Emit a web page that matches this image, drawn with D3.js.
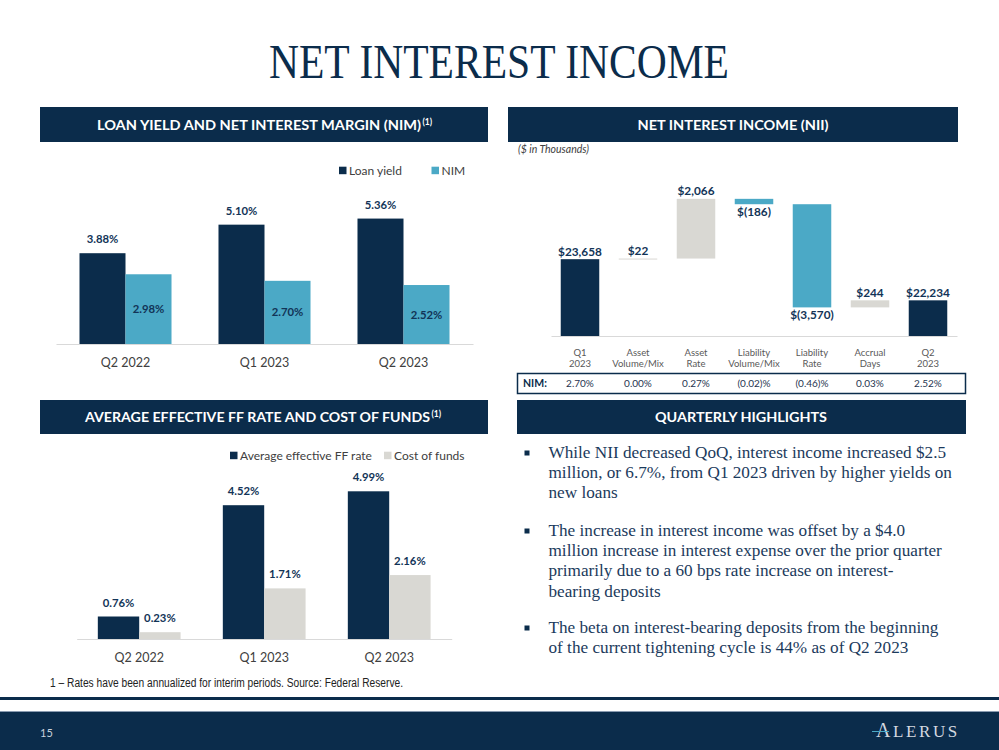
<!DOCTYPE html>
<html><head><meta charset="utf-8">
<script src="https://cdn.jsdelivr.net/npm/d3@7"></script>
<style>body{margin:0;background:#fff;} svg{display:block;}</style>
</head><body><svg id="c" width="999" height="750"></svg>
<script>
// ---------- DATA ----------
const quarters = ["Q2 2022", "Q1 2023", "Q2 2023"];
const loanYield = [3.88, 5.10, 5.36];
const nimValues = [2.98, 2.70, 2.52];
const ffRate = [0.76, 4.52, 4.99];
const costOfFunds = [0.23, 1.71, 2.16];

const niiSteps = ["Q1\n2023", "Asset\nVolume/Mix", "Asset\nRate", "Liability\nVolume/Mix", "Liability\nRate", "Accrual\nDays", "Q2\n2023"];
const niiValues = [23658, 22, 2066, -186, -3570, 244, 22234];
const niiTypes = ["total", "delta", "delta", "delta", "delta", "delta", "total"];
const niiLabels = ["$23,658", "$22", "$2,066", "$(186)", "$(3,570)", "$244", "$22,234"];
const nimRow = ["2.70%", "0.00%", "0.27%", "(0.02)%", "(0.46)%", "0.03%", "2.52%"];

const highlights = [
  ["While NII decreased QoQ, interest income increased $2.5", "million, or 6.7%, from Q1 2023 driven by higher yields on", "new loans"],
  ["The increase in interest income was offset by a $4.0", "million increase in interest expense over the prior quarter", "primarily due to a 60 bps rate increase on interest-", "bearing deposits"],
  ["The beta on interest-bearing deposits from the beginning", "of the current tightening cycle is 44% as of Q2 2023"]
];

// ---------- STYLE ----------
const NAVY = "#0b2c4b", BLUE = "#4ba9c6", GRAY = "#d9d8d3", AXIS = "#d9d9d9";
const SANS = "Lato, 'Open Sans', sans-serif";
const SERIF = "'Liberation Serif', 'DejaVu Serif', serif";

const svg = d3.select("#c");

// Title
svg.append("text").attr("x", 269).attr("y", 78)
  .attr("textLength", 460).attr("lengthAdjust", "spacingAndGlyphs")
  .style("font-family", SERIF).style("font-size", "48px").attr("fill", NAVY)
  .text("NET INTEREST INCOME");

// Header bands
function header(x0, x1, y0, y1, label, tx, tw, base, sup, supX) {
  svg.append("rect").attr("x", x0).attr("y", y0).attr("width", x1 - x0).attr("height", y1 - y0).attr("fill", NAVY);
  svg.append("text").attr("x", tx).attr("y", base).attr("textLength", tw).attr("lengthAdjust", "spacingAndGlyphs")
    .style("font-family", SANS).style("font-weight", 700).style("font-size", "14px").attr("fill", "#fff").text(label);
  if (sup) svg.append("text").attr("x", supX).attr("y", base - 5)
    .style("font-family", SANS).style("font-weight", 700).style("font-size", "8.5px").attr("fill", "#fff").text(sup);
}
header(40, 488, 107, 142, "LOAN YIELD AND NET INTEREST MARGIN (NIM)", 97, 324, 129.5, "(1)", 422.5);
header(508, 958, 107, 142, "NET INTEREST INCOME (NII)", 637.5, 191, 129.5);
header(40, 488, 400, 434, "AVERAGE EFFECTIVE FF RATE AND COST OF FUNDS", 85, 345, 422, "(1)", 431.5);
header(517, 966, 400, 434, "QUARTERLY HIGHLIGHTS", 655, 172, 422);

// ---------- grouped bar helper ----------
function groupedChart(cfg) {
  const g = svg.append("g");
  const x0 = d3.scaleBand().domain(quarters).range(cfg.xr).paddingInner(0.338).paddingOuter(0.169);
  const x1 = d3.scaleBand().domain([0, 1]).range([0, x0.bandwidth()]);
  const y = d3.scaleLinear().domain([0, 6]).range([cfg.base, cfg.base - 6 * cfg.pxPer]);
  const series = [cfg.a, cfg.b];
  series.forEach((vals, si) => {
    g.selectAll(null).data(vals).enter().append("rect")
      .attr("x", (d, i) => x0(quarters[i]) + x1(si))
      .attr("y", d => y(d)).attr("width", x1.bandwidth()).attr("height", d => y(0) - y(d))
      .attr("fill", cfg.colors[si]);
    g.selectAll(null).data(vals).enter().append("text")
      .attr("x", (d, i) => x0(quarters[i]) + x1(si) + x1.bandwidth() / 2)
      .attr("y", d => (cfg.inside[si] ? (y(d) + y(0)) / 2 + 4 : y(d) - 10))
      .attr("text-anchor", "middle").style("font-family", SANS).style("font-weight", 700)
      .style("font-size", "11.3px").attr("fill", "#123457")
      .text(d => d.toFixed(2) + "%");
  });
  const ax = g.append("g").attr("transform", `translate(0,${cfg.base})`)
    .call(d3.axisBottom(x0).tickSize(0).tickSizeOuter(0).tickPadding(13.8));
  ax.select(".domain").attr("stroke", AXIS);
  ax.selectAll(".tick text").style("font-family", SANS).style("font-size", "12.5px").attr("fill", "#404040");
  // legend
  cfg.legend.forEach((l, i) => {
    svg.append("rect").attr("x", l.x).attr("y", cfg.ly - 3.8).attr("width", 7.5).attr("height", 7.5).attr("fill", cfg.colors[i]);
    svg.append("text").attr("x", l.x + 10).attr("y", cfg.ly + 4).style("font-family", SANS).style("font-size", "12px")
      .attr("fill", "#404040").text(l.t);
  });
}

groupedChart({ xr: [56, 473], base: 344, pxPer: 23.4, a: loanYield, b: nimValues, colors: [NAVY, BLUE],
  inside: [false, true], ly: 170.5, legend: [{ x: 339, t: "Loan yield" }, { x: 431.5, t: "NIM" }] });

groupedChart({ xr: [76.7, 451.7], base: 639, pxPer: 29.6, a: ffRate, b: costOfFunds, colors: [NAVY, GRAY],
  inside: [false, false], ly: 455.5, legend: [{ x: 230, t: "Average effective FF rate" }, { x: 384, t: "Cost of funds" }] });

// Footnote
svg.append("text").attr("x", 50).attr("y", 686.5).attr("textLength", 353).attr("lengthAdjust", "spacingAndGlyphs")
  .style("font-family", "'Liberation Sans Narrow', 'Liberation Sans', Arial, sans-serif").style("font-size", "12.5px")
  .attr("fill", "#222").text("1 – Rates have been annualized for interim periods. Source: Federal Reserve.");

// ---------- Waterfall ----------
const wg = svg.append("g");
const wx = d3.scaleBand().domain(niiSteps).range([551, 957]).paddingInner(0.336).paddingOuter(0.168);
const wy = d3.scaleLinear().domain([21000, 27000]).range([336, 336 - 173.4]);
let run = 0;
const wData = niiValues.map((v, i) => {
  let lo, hi;
  if (niiTypes[i] === "total") { lo = wy.domain()[0]; hi = v; run = v; }
  else { const s = run; run = run + v; lo = Math.min(s, run); hi = Math.max(s, run); }
  return { step: niiSteps[i], v, lo, hi, type: niiTypes[i], label: niiLabels[i] };
});
wg.selectAll(null).data(wData).enter().append("rect")
  .attr("x", d => wx(d.step)).attr("width", wx.bandwidth())
  .attr("y", d => wy(d.hi)).attr("height", d => Math.max(1, wy(d.lo) - wy(d.hi)))
  .attr("fill", d => d.type === "total" ? NAVY : (d.v >= 0 ? GRAY : BLUE));
wg.selectAll(null).data(wData).enter().append("text")
  .attr("x", d => wx(d.step) + wx.bandwidth() / 2)
  .attr("y", d => d.v >= 0 ? wy(d.hi) - 3.5 : wy(d.lo) + 11.5)
  .attr("text-anchor", "middle").style("font-family", SANS).style("font-weight", 700).style("font-size", "11.8px")
  .attr("fill", "#123457").text(d => d.label);
const wax = wg.append("g").attr("transform", "translate(0,336)")
  .call(d3.axisBottom(wx).tickSize(0).tickSizeOuter(0).tickPadding(13.3));
wax.select(".domain").attr("stroke", AXIS);
wax.selectAll(".tick text").each(function (d) {
  const el = d3.select(this); el.text(null);
  d.split("\n").forEach((l, i) => el.append("tspan").attr("x", 0).attr("dy", i ? "1.16em" : "0.71em").text(l));
}).style("font-family", SANS).style("font-size", "9.5px").attr("fill", "#595959");

svg.append("text").attr("x", 518).attr("y", 153).style("font-family", SANS).style("font-style", "italic")
  .style("font-size", "10.5px").attr("fill", "#404040").text("($ in Thousands)");

// NIM row
svg.append("rect").attr("x", 517.5).attr("y", 373.5).attr("width", 448).attr("height", 20)
  .attr("fill", "none").attr("stroke", NAVY).attr("stroke-width", 1.5);
svg.append("text").attr("x", 523).attr("y", 387).style("font-family", SANS).style("font-weight", 700)
  .style("font-size", "10.5px").attr("fill", NAVY).text("NIM:");
svg.selectAll(null).data(nimRow).enter().append("text")
  .attr("x", (d, i) => wx(niiSteps[i]) + wx.bandwidth() / 2).attr("y", 387)
  .attr("text-anchor", "middle").style("font-family", SANS).style("font-size", "10px").attr("fill", "#1f3550").text(d => d);

// ---------- Highlights ----------
const hStarts = [458, 536, 633];
highlights.forEach((lines, bi) => {
  svg.append("rect").attr("x", 524.5).attr("y", hStarts[bi] - 7.5).attr("width", 5).attr("height", 5).attr("fill", NAVY);
  lines.forEach((l, li) => {
    svg.append("text").attr("x", 548.5).attr("y", hStarts[bi] + li * 20.2)
      .style("font-family", SERIF).style("font-size", "17.2px").attr("fill", "#1b3a5c").text(l);
  });
});

// ---------- Footer ----------
svg.append("rect").attr("x", 0).attr("y", 697).attr("width", 999).attr("height", 3).attr("fill", NAVY);
svg.append("rect").attr("x", 0).attr("y", 711).attr("width", 999).attr("height", 1).attr("fill", "#8a9bb0");
svg.append("rect").attr("x", 0).attr("y", 712).attr("width", 999).attr("height", 38).attr("fill", NAVY);
svg.append("text").attr("x", 40).attr("y", 737).style("font-family", SANS).style("font-size", "11px").attr("fill", "#c9d2dc").text("15");
const logo = svg.append("text").attr("x", 876).attr("y", 737).style("font-family", SERIF).attr("fill", "#d3d9e0")
  .style("letter-spacing", "2.6px");
logo.append("tspan").style("font-size", "20px").text("A");
logo.append("tspan").style("font-size", "17px").text("LERUS");
svg.append("line").attr("x1", 872).attr("x2", 889).attr("y1", 731.5).attr("y2", 731.5).attr("stroke", BLUE).attr("stroke-width", 1);
</script></body></html>
